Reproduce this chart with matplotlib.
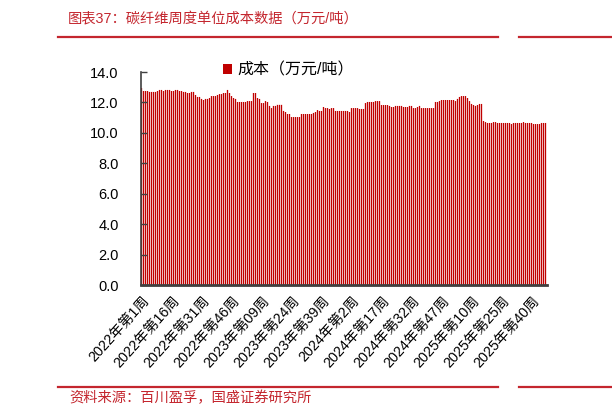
import matplotlib.pyplot as plt
from matplotlib.lines import Line2D

plt.rcParams['font.family'] = ['Liberation Sans', 'Noto Sans CJK SC']

# weekly unit cost, 万元/吨, 2022 week 1 .. 2025 week 47
cost_2022 = [12.95, 12.75, 12.75, 12.75, 12.69, 12.69, 12.69, 12.69, 12.75, 12.82,
             12.82, 12.75, 12.82, 12.82, 12.82, 12.75, 12.75, 12.82, 12.82, 12.75,
             12.75, 12.69, 12.69, 12.62, 12.62, 12.69, 12.69, 12.49, 12.36, 12.36,
             12.23, 12.16, 12.23, 12.23, 12.29, 12.42, 12.42, 12.42, 12.49, 12.55,
             12.55, 12.62, 12.62, 12.82, 12.62, 12.42, 12.29, 12.23, 12.03, 12.03,
             12.03, 12.03]
cost_2023 = [12.03, 12.09, 12.09, 12.09, 12.62, 12.62, 12.29, 12.23, 11.96, 11.96,
             12.09, 12.03, 11.77, 11.63, 11.77, 11.77, 11.84, 11.84, 11.84, 11.44,
             11.37, 11.24, 11.24, 11.04, 11.04, 11.04, 11.04, 11.04, 11.24, 11.24,
             11.24, 11.24, 11.24, 11.24, 11.31, 11.37, 11.50, 11.44, 11.44, 11.70,
             11.63, 11.63, 11.57, 11.63, 11.63, 11.44, 11.44, 11.44, 11.44, 11.44,
             11.44, 11.44]
cost_2024 = [11.37, 11.63, 11.63, 11.63, 11.63, 11.57, 11.57, 11.57, 11.96, 12.03,
             12.03, 12.03, 12.03, 12.09, 12.09, 12.09, 11.83, 11.83, 11.83, 11.83,
             11.77, 11.70, 11.70, 11.77, 11.77, 11.77, 11.77, 11.70, 11.70, 11.70,
             11.77, 11.77, 11.63, 11.63, 11.70, 11.77, 11.63, 11.63, 11.63, 11.63,
             11.63, 11.63, 11.63, 12.03, 12.03, 12.09, 12.16, 12.16, 12.16, 12.16,
             12.16, 12.16]
cost_2025 = [12.16, 12.09, 12.23, 12.36, 12.42, 12.42, 12.42, 12.29, 12.09, 11.90,
             11.83, 11.77, 11.83, 11.90, 11.90, 10.78, 10.71, 10.65, 10.65, 10.65,
             10.71, 10.71, 10.65, 10.65, 10.65, 10.65, 10.65, 10.65, 10.65, 10.58,
             10.65, 10.65, 10.65, 10.65, 10.65, 10.71, 10.65, 10.65, 10.65, 10.65,
             10.58, 10.58, 10.58, 10.58, 10.65, 10.65, 10.65]

years = [2022, 2023, 2024, 2025]
series = [cost_2022, cost_2023, cost_2024, cost_2025]

weeks = []
cost = []
for yr, vals in zip(years, series):
    for w, v in enumerate(vals, start=1):
        if yr == 2023:
            weeks.append(f'{yr}年第{w:02d}周')
        else:
            weeks.append(f'{yr}年第{w}周')
        cost.append(v)

red = '#C00000'
line_red = '#C4262E'

fig = plt.figure(figsize=(6.12, 4.19), dpi=100)
ax = fig.add_axes([141 / 612, 1 - 285 / 419, 406 / 612, 213 / 419])

x = list(range(len(cost)))
ax.bar(x, cost, width=0.65, color=red, linewidth=0, snap=False,
       label='成本（万元/吨）')

# offset by a quarter category so each thin bar lands on whole pixels
ax.set_xlim(-0.25, len(cost) - 0.25)
ax.set_ylim(0, 14)
ax.set_yticks(range(0, 15, 2))
ax.set_yticklabels([f'{v:.1f}' for v in range(0, 15, 2)], fontsize=10.5)
tick_pos = x[::15]
ax.set_xticks(tick_pos)
ax.set_xticklabels([weeks[i] for i in tick_pos], rotation=48, ha='right',
                   rotation_mode='anchor', fontsize=10.3)

for s in ['top', 'right']:
    ax.spines[s].set_visible(False)
ax.spines['left'].set_color('#404040')
ax.spines['left'].set_linewidth(1.2)
ax.spines['bottom'].set_color('#404040')
ax.spines['bottom'].set_linewidth(2)
ax.tick_params(axis='y', direction='in', length=4, width=1, color='#404040', pad=16)
ax.tick_params(axis='x', length=0, pad=6)

fig.legend(loc='center', bbox_to_anchor=(288 / 612, 1 - 70 / 419), frameon=False,
           fontsize=11.5, handlelength=0.6, handleheight=0.6, handletextpad=0.3)

# header / footer decoration
for yy in [1 - 37 / 419, 1 - 387 / 419]:
    fig.add_artist(Line2D([58 / 612, 498 / 612], [yy, yy], color=line_red, lw=1.6))
    fig.add_artist(Line2D([519 / 612, 1.0], [yy, yy], color=line_red, lw=1.6))

fig.text(68 / 612, 1 - 19 / 419, '图表37：碳纤维周度单位成本数据（万元/吨）',
         color=line_red, fontsize=10.3, va='center', ha='left')
fig.text(69 / 612, 1 - 398 / 419, '资料来源：百川盈孚，国盛证券研究所',
         color=line_red, fontsize=10.3, va='center', ha='left')

fig.savefig('out.png', dpi=100)
